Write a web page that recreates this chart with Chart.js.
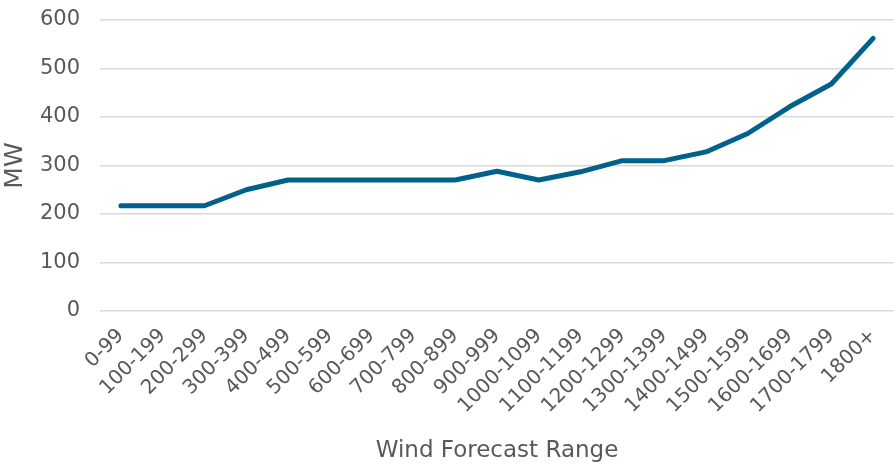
<!DOCTYPE html>
<html>
<head>
<meta charset="utf-8">
<script src="https://cdn.jsdelivr.net/npm/chart.js@4"></script>
<style>
  html, body { margin: 0; padding: 0; background: #fff; }
  #wrap { width: 894px; height: 465px; }
</style>
</head>
<body>
<div id="wrap"><canvas id="c" width="894" height="465"></canvas></div>
<script>
// Wind forecast ranges (MW) and the corresponding requirement values
const ranges = [
  "0-99", "100-199", "200-299", "300-399", "400-499", "500-599", "600-699",
  "700-799", "800-899", "900-999", "1000-1099", "1100-1199", "1200-1299",
  "1300-1399", "1400-1499", "1500-1599", "1600-1699", "1700-1799", "1800+"
];
const mwValues = [
  217, 217, 217, 250, 270, 270, 270,
  270, 270, 288, 270, 287, 310,
  310, 328, 366, 421, 468, 562
];
const yTicks = [0, 100, 200, 300, 400, 500, 600];

const FONT = "'DejaVu Sans', sans-serif";
const GREY = "#595959";

// Fixed axis band sizes; rotated edge labels may overflow into the margins
const fixAxis = (size) => (axis) => {
  axis.paddingLeft = 0;
  axis.paddingRight = 0;
  axis.paddingTop = 0;
  axis.paddingBottom = 0;
  if (axis.isHorizontal()) axis.height = size; else axis.width = size;
};

new Chart(document.getElementById("c"), {
  type: "line",
  data: {
    labels: ranges,
    datasets: [{
      data: mwValues,
      borderColor: "#00618a",
      borderWidth: 5,
      pointRadius: 0,
      tension: 0,
      fill: false,
      borderCapStyle: "round",
      borderJoinStyle: "round"
    }]
  },
  options: {
    responsive: false,
    animation: false,
    layout: { padding: { top: 20, right: 0, left: 0, bottom: 0 } },
    plugins: { legend: { display: false }, tooltip: { enabled: false } },
    scales: {
      x: {
        offset: true,
        grid: { display: false },
        border: { display: false },
        afterFit: fixAxis(154),
        ticks: {
          color: GREY,
          font: { family: FONT, size: 20 },
          minRotation: 45,
          maxRotation: 45,
          autoSkip: false,
          padding: 5
        },
        title: {
          display: true,
          text: "Wind Forecast Range",
          color: GREY,
          font: { family: FONT, size: 23 },
          padding: { top: 0, bottom: 0 }
        }
      },
      y: {
        min: 0,
        max: 600,
        afterBuildTicks: (axis) => { axis.ticks = yTicks.map(v => ({ value: v })); },
        afterFit: fixAxis(100),
        grid: { color: "#d9d9d9", lineWidth: 1.5, drawTicks: false },
        border: { display: false },
        ticks: {
          color: GREY,
          font: { family: FONT, size: 21 },
          padding: 20
        },
        title: {
          display: true,
          text: "MW",
          color: GREY,
          font: { family: FONT, size: 25 },
          padding: { top: 0, bottom: 0 }
        }
      }
    }
  }
});
</script>
</body>
</html>
